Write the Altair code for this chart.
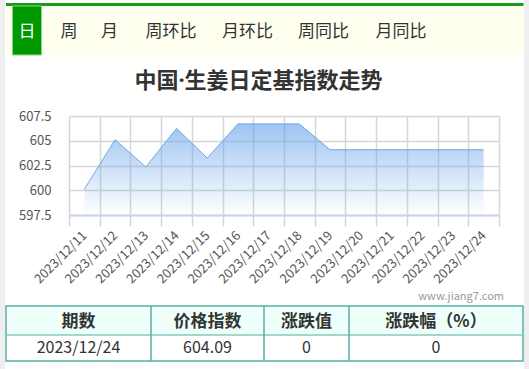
import altair as alt
import pandas as pd

# ---------------- data ----------------
dates = ["2023/12/11", "2023/12/12", "2023/12/13", "2023/12/14", "2023/12/15",
         "2023/12/16", "2023/12/17", "2023/12/18", "2023/12/19", "2023/12/20",
         "2023/12/21", "2023/12/22", "2023/12/23", "2023/12/24"]
values = [600.1, 605.1, 602.35, 606.25, 603.25, 606.7, 606.7, 606.7,
          604.09, 604.09, 604.09, 604.09, 604.09, 604.09]
y_ticks = [597.5, 600, 602.5, 605, 607.5]
tabs = ["日", "周", "月", "周环比", "月环比", "周同比", "月同比"]
title_text = "中国·生姜日定基指数走势"
table_headers = ["期数", "价格指数", "涨跌值", "涨跌幅（%）"]
table_row = ["2023/12/24", "604.09", "0", "0"]
watermark = "www.jiang7.com"

# ---------------- layout (pixels) ----------------
OX, OY = 69, 116          # plot origin on the page
PW, PH = 430, 99          # plot size
FONT = "Noto Sans CJK SC"
TITLE_FONT = "Noto Sans, Noto Sans CJK SC"
tab_centers = [27, 69, 109.5, 171, 247.5, 323.5, 401]
col_edges = [6, 151, 264, 349, 523]
one = pd.DataFrame({"k": [0]})


def R(x1, y1, x2, y2, **kw):
    return alt.Chart(one).mark_rect(**kw).encode(
        x=alt.value(x1 - OX), x2=alt.value(x2 - OX),
        y=alt.value(y1 - OY), y2=alt.value(y2 - OY))


def L(x1, y1, x2, y2, **kw):
    return alt.Chart(one).mark_rule(**kw).encode(
        x=alt.value(x1 - OX), x2=alt.value(x2 - OX),
        y=alt.value(y1 - OY), y2=alt.value(y2 - OY))


def T(txt, x, y, font=FONT, **kw):
    return alt.Chart(one).mark_text(font=font, baseline="middle", **kw).encode(
        x=alt.value(x - OX), y=alt.value(y - OY), text=alt.value(txt))


decor = []
# page side stripes
decor.append(R(0, 0, 5, 369, fill="#efefef"))
decor.append(R(524, 0, 529, 369, fill="#efefef"))
# tab bar
decor.append(R(6, 6, 523.5, 55, fill="#fffff0"))
decor.append(R(6, 3, 523.5, 6, fill="#1a9a1a"))
decor.append(R(12.5, 6, 41.5, 55, fill="#009900", stroke="#88d488", strokeWidth=1))
for i, (t, cx) in enumerate(zip(tabs, tab_centers)):
    decor.append(T(t, cx, 31.5, fontSize=17, align="center",
                   color="#ffffff" if i == 0 else "#333333"))
# title
decor.append(T(title_text, 258.5, 81, font=TITLE_FONT, fontSize=22,
               fontWeight="bold", align="center", color="#333333"))
# watermark
decor.append(T(watermark, 504, 297, fontSize=11, align="right", color="#999999"))
# table
decor.append(R(6, 306, 523, 335, fill="#effff9"))
decor.append(R(6, 306, 523, 361, fill=None, stroke="#5aaea6", strokeWidth=1.5))
decor.append(L(6, 335, 523, 335, color="#86c9c1", strokeWidth=1.5))
for xe in col_edges[1:-1]:
    decor.append(L(xe, 306, xe, 361, color="#5aaea6", strokeWidth=1.5))
for i in range(4):
    cx = (col_edges[i] + col_edges[i + 1]) / 2
    decor.append(T(table_headers[i], cx, 321.5, fontSize=17, fontWeight="bold",
                   align="center", color="#333333"))
    decor.append(T(table_row[i], cx, 348, fontSize=16, align="center",
                   color="#333333"))

# ---------------- main area chart ----------------
df = pd.DataFrame({"date": dates, "value": values})
grad = alt.Gradient(
    gradient="linear", x1=0, x2=0, y1=0, y2=1,
    stops=[alt.GradientStop(color="rgba(100,162,234,0.9)", offset=0),
           alt.GradientStop(color="rgba(100,162,234,0.45)", offset=0.5),
           alt.GradientStop(color="rgba(100,162,234,0.0)", offset=1)])

area = alt.Chart(df).mark_area(
    color=grad, line={"color": "#6ea6e6", "strokeWidth": 1}
).encode(
    x=alt.X("date:N", sort=None, bandPosition=0.5,
            scale=alt.Scale(type="band", paddingInner=0, paddingOuter=0),
            axis=alt.Axis(title=None, labelAngle=-45, labelAlign="right",
                          labelBaseline="middle", tickBand="extent",
                          tickSize=11, tickColor="#ccd6eb", tickWidth=1.5,
                          domainColor="#ccd6eb", domainWidth=2,
                          grid=True, gridColor="#d6d6d6", gridWidth=1.5,
                          labelPadding=7, labelFont=FONT, labelFontSize=13,
                          labelColor="#555555")),
    y=alt.Y("value:Q",
            scale=alt.Scale(domain=[597.5, 607.5], nice=False, zero=False),
            axis=alt.Axis(title=None, values=y_ticks, format=".4~g",
                          domain=False, ticks=False, grid=True,
                          gridColor="#d6d6d6", gridWidth=1.5,
                          labelPadding=18, labelFont=FONT, labelFontSize=13,
                          labelColor="#555555")),
    y2=alt.datum(597.5),
)

chart = alt.layer(*decor, area).properties(
    width=PW, height=PH,
    padding={"left": OX, "top": OY, "right": 529 - OX - PW, "bottom": 369 - OY - PH},
    autosize=alt.AutoSizeParams(type="none"),
    background="white",
).configure_view(stroke=None)

chart.save("out.html", embed_options={"renderer": "svg", "actions": False})
